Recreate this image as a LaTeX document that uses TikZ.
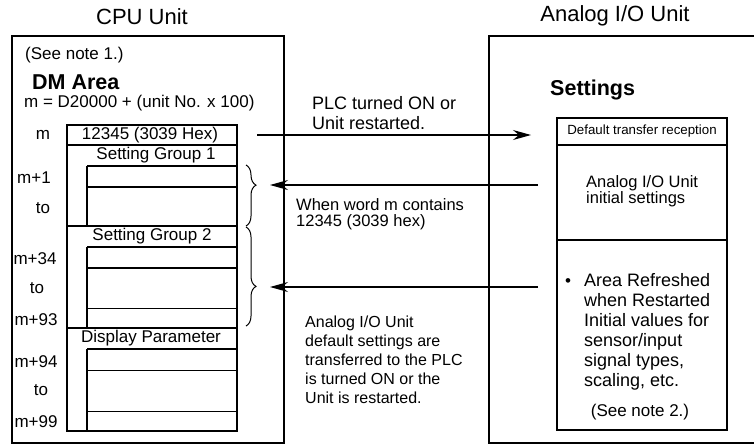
\documentclass[tikz,border=0pt]{standalone}
\usepackage{fontspec}
\setmainfont{Liberation Sans}
\usetikzlibrary{arrows.meta,decorations.pathreplacing}
\newcommand\fsz[2]{\fontsize{#1}{#2}\selectfont}
\begin{document}
\begin{tikzpicture}[x=1pt,y=-1pt,
  frame/.style={line width=1.3pt},
  subline/.style={line width=1pt},
  arr/.style={line width=1.2pt,-{Stealth[length=18pt,width=10pt,inset=6pt]}},
  brc/.style={line width=1pt,decorate},
  lbl/.style={inner sep=0pt,font=\fsz{17}{19}},
  lblw/.style={lbl,anchor=west},
  ttl/.style={inner sep=0pt,font=\fsz{22}{24}},
  hd/.style={inner sep=0pt,anchor=west,font=\fsz{21.5}{24}\bfseries}]
\useasboundingbox (0,0) rectangle (754,445);
\clip (0,0) rectangle (754,445);

% titles
\node[ttl] (cputitle) at (142,17) {CPU Unit};
\node[ttl] (aiotitle) at (615,16) {Analog I/O Unit};

% CPU unit box
\draw[frame] (12,36) rectangle (284,443);
\node[lblw] (note1) at (25,55) {(See note 1.)};
\node[hd] (dmarea) at (32,82.5) {DM Area};
\node[lblw] (formula) at (24,103) {m = D20000 + (unit No. x 100)};

% DM table
\draw[frame] (67,125) rectangle (237,431);
\draw[frame] (67,145) -- (237,145);
\draw[frame] (87,166) -- (237,166);
\draw[frame] (87,166) -- (87,226);
\draw[frame] (87,187) -- (237,187);
\draw[frame] (67,226) -- (237,226);
\draw[frame] (87,247) -- (237,247);
\draw[frame] (87,247) -- (87,328);
\draw[frame] (87,268) -- (237,268);
\draw[subline] (87,308) -- (237,308);
\draw[frame] (67,328) -- (237,328);
\draw[frame] (87,349) -- (237,349);
\draw[frame] (87,349) -- (87,431);
\draw[subline] (87,370) -- (237,370);
\draw[subline] (87,411) -- (237,411);

\node[lbl] (w0) at (150,135) {12345 (3039 Hex)};
\node[lbl] (sg1) at (156,155.5) {Setting Group 1};
\node[lbl] (sg2) at (152,236.5) {Setting Group 2};
\node[lbl] (dp) at (151,338.5) {Display Parameter};

% address labels
\node[lbl] (am) at (43,135) {m};
\node[lbl] (am1) at (34,178) {m+1};
\node[lbl] (to1) at (43,208) {to};
\node[lbl] (am34) at (35,259) {m+34};
\node[lbl] (to2) at (37,288) {to};
\node[lbl] (am93) at (36,320) {m+93};
\node[lbl] (am94) at (36,362) {m+94};
\node[lbl] (to3) at (41,390) {to};
\node[lbl] (am99) at (36,422) {m+99};

% braces
\draw[brc,decoration={brace,amplitude=10pt,aspect=0.33}] (246,165) -- (246,226);
\draw[brc,decoration={brace,amplitude=10pt,aspect=0.6}] (246,227) -- (246,326);

% Analog I/O unit box
\draw[frame] (760,36) -- (489,36) -- (489,443) -- (760,443);
\node[hd] (settings) at (550,90) {Settings};
\draw[frame] (557,118) rectangle (727,430);
\draw[frame] (557,145) -- (727,145);
\draw[frame] (557,240) -- (727,240);
\node[inner sep=0pt,font=\fsz{13.3}{15}] (dtr) at (642,131.5) {Default transfer reception};
\node[inner sep=0pt,anchor=west,align=left,font=\fsz{16.5}{15}] (init) at (586,191.5) {Analog I/O Unit\\initial settings};
\node[inner sep=0pt,anchor=west,font=\fsz{17}{19}] (bul) at (565,283) {\textbullet};
\node[inner sep=0pt,anchor=north west,align=left,font=\fsz{18}{20}] (area) at (584,273) {Area Refreshed\\when Restarted\\Initial values for\\sensor/input\\signal types,\\scaling, etc.};
\node[lbl] (note2) at (640,412) {(See note 2.)};

% arrows
\coordinate (a1s) at (257,135);
\coordinate (a1e) at (531,135);
\coordinate (a2s) at (538,185);
\coordinate (a2e) at (270,185);
\coordinate (a3s) at (538,287);
\coordinate (a3e) at (270,287);
\draw[arr] (a1s) -- (a1e);
\draw[arr] (a2s) -- (a2e);
\draw[arr] (a3s) -- (a3e);

% middle texts
\node[inner sep=0pt,anchor=west,align=left,font=\fsz{18}{20}] (plc) at (312,113) {PLC turned ON or\\Unit restarted.};
\node[inner sep=0pt,anchor=west,align=left,font=\fsz{16.5}{16.5}] (when) at (296,214) {When word m contains\\12345 (3039 hex)};
\node[inner sep=0pt,anchor=west,align=left,font=\fsz{16}{19}] (dflt) at (305,360) {Analog I/O Unit\\default settings are\\transferred to the PLC\\is turned ON or the\\Unit is restarted.};
\end{tikzpicture}
\end{document}
